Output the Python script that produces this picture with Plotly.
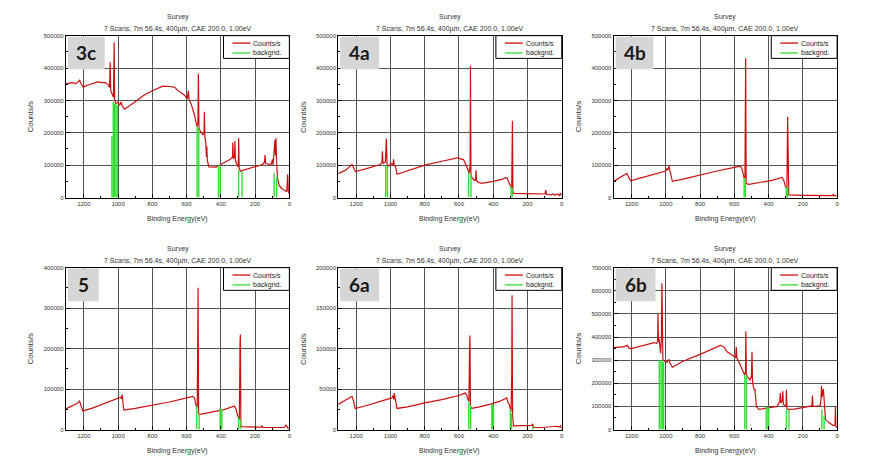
import plotly.graph_objects as go

# ---------------- data ----------------
panel_labels = ["3c", "4a", "4b", "5", "6a", "6b"]
y_max = [500000, 500000, 500000, 400000, 200000, 700000]
y_step = [100000, 100000, 100000, 100000, 50000, 100000]
x_tick_vals = [0, 200, 400, 600, 800, 1000, 1200]
x_range = [1305, 0]

title_text = "Survey"
subtitle_text = "7 Scans, 7m 56.4s, 400µm, CAE 200.0, 1.00eV"
x_title = "Binding Energy(eV)"
y_title = "Counts/s"
legend_names = ["Counts/s", "backgnd."]

# (binding energy eV, counts/s)
spectrum_3c = [
    (1305, 351000), (1270, 355000), (1245, 352000), (1225, 362000), (1215, 350000),
    (1203, 341000), (1180, 347000), (1150, 352000), (1118, 357000), (1090, 355000),
    (1075, 355000), (1058, 348000), (1050, 340000), (1046, 418000), (1043, 330000),
    (1035, 320000), (1027, 310000), (1023, 480000), (1020, 300000), (1013, 290000),
    (1000, 295000), (990, 285000), (982, 295000), (975, 282000), (962, 273000),
    (900, 296000), (850, 316000), (800, 330000), (739, 344000), (700, 343000),
    (671, 341000), (651, 331000), (612, 316000), (596, 305000), (590, 330000),
    (585, 300000), (574, 290000), (554, 255000), (540, 220000), (534, 230000),
    (531, 382000), (528, 215000), (520, 205000), (505, 194000), (498, 200000),
    (496, 265000), (493, 185000), (488, 170000), (484, 125000), (482, 158000),
    (479, 115000), (470, 95000), (450, 95000), (428, 94000), (400, 102000),
    (370, 110000), (345, 118000), (332, 125000), (330, 170000), (327, 120000),
    (320, 125000), (318, 175000), (315, 115000), (305, 100000), (298, 95000),
    (296, 184000), (293, 90000), (285, 82000), (250, 88000), (200, 95000),
    (156, 102000), (145, 110000), (142, 131000), (139, 105000), (120, 102000),
    (107, 102000), (98, 118000), (95, 100000), (88, 150000), (84, 178000),
    (81, 130000), (78, 184000), (75, 120000), (70, 65000), (60, 38000),
    (45, 28000), (25, 22000), (15, 18000), (10, 72000), (6, 20000), (1, 12000),
]
spectrum_4a = [
    (1305, 74000), (1260, 85000), (1235, 97000), (1225, 102000), (1215, 92000),
    (1205, 80000), (1150, 88000), (1100, 96000), (1060, 102000), (1050, 108000),
    (1047, 143000), (1044, 105000), (1030, 110000), (1024, 182000), (1020, 100000),
    (1013, 97000), (995, 105000), (985, 100000), (982, 118000), (978, 100000),
    (970, 95000), (962, 72000), (900, 83000), (800, 100000), (700, 112000),
    (640, 118000), (603, 123000), (585, 118000), (574, 118000), (560, 102000),
    (548, 82000), (540, 75000), (535, 100000), (533, 407000), (530, 70000),
    (525, 62000), (509, 52000), (503, 55000), (500, 84000), (497, 52000),
    (490, 48000), (467, 44000), (400, 50000), (350, 56000), (321, 62000),
    (311, 47000), (301, 37000), (292, 30000), (288, 237000), (285, 20000),
    (282, 13000), (200, 12000), (120, 12000), (97, 11000), (93, 23000),
    (89, 10000), (60, 8000), (50, 12000), (40, 7000), (25, 11000),
    (15, 6000), (8, 13000), (1, 6000),
]
spectrum_4b = [
    (1305, 50000), (1270, 60000), (1240, 70000), (1229, 74000), (1222, 68000),
    (1206, 52000), (1150, 60000), (1100, 68000), (1050, 75000), (1001, 82000),
    (992, 90000), (988, 85000), (982, 97000), (976, 85000), (962, 50000),
    (900, 57000), (800, 70000), (700, 82000), (600, 93000), (564, 97000),
    (554, 87000), (544, 62000), (538, 60000), (534, 430000), (531, 45000),
    (525, 42000), (515, 41000), (450, 47000), (380, 53000), (321, 62000),
    (311, 52000), (301, 32000), (293, 28000), (289, 249000), (286, 15000),
    (282, 8000), (200, 7000), (100, 6500), (50, 6000), (25, 6000),
    (22, 11000), (18, 6000), (1, 5000),
]
spectrum_5 = [
    (1305, 51000), (1270, 57000), (1240, 64000), (1225, 70000), (1218, 62000),
    (1206, 46000), (1150, 53000), (1100, 61000), (1050, 68000), (992, 78000),
    (985, 80000), (980, 76000), (976, 86000), (970, 60000), (966, 48000),
    (900, 52000), (800, 60000), (700, 68000), (600, 78000), (564, 82000),
    (554, 78000), (548, 65000), (544, 58000), (538, 55000), (535, 185000),
    (533, 350000), (530, 40000), (525, 37000), (515, 38000), (450, 44000),
    (380, 49000), (321, 58000), (311, 50000), (301, 33000), (292, 25000),
    (288, 215000), (286, 235000), (283, 12000), (278, 7000), (200, 6000),
    (165, 6000), (160, 9000), (155, 5000), (100, 5000), (30, 5000),
    (20, 11000), (10, 4000), (1, 3000),
]
spectrum_6a = [
    (1305, 31000), (1270, 35000), (1240, 39000), (1225, 41000), (1218, 37000),
    (1206, 26000), (1150, 29000), (1100, 32000), (1050, 35000), (992, 39000),
    (985, 42000), (980, 37000), (978, 45000), (972, 36000), (962, 26000),
    (900, 28000), (800, 33000), (700, 37000), (600, 42000), (564, 45000),
    (554, 42000), (547, 37000), (542, 35000), (538, 100000), (536, 116000),
    (533, 28000), (525, 26000), (480, 28000), (420, 31000), (360, 35000),
    (321, 39000), (315, 34000), (305, 30000), (296, 22000), (292, 65000),
    (290, 166000), (287, 18000), (282, 4500), (220, 4500), (175, 5000),
    (170, 7000), (165, 2500), (120, 2500), (60, 3000), (30, 4000),
    (15, 3000), (8, 4500), (1, 1500),
]
spectrum_6b = [
    (1305, 354000), (1280, 355000), (1250, 357000), (1225, 364000), (1215, 352000),
    (1202, 350000), (1150, 360000), (1100, 370000), (1068, 376000), (1055, 372000),
    (1048, 380000), (1046, 502000), (1043, 380000), (1040, 393000), (1030, 330000),
    (1026, 400000), (1023, 632000), (1020, 310000), (1017, 300000), (1005, 295000),
    (995, 290000), (982, 303000), (975, 285000), (962, 269000), (900, 295000),
    (800, 325000), (700, 358000), (681, 364000), (661, 357000), (642, 336000),
    (603, 317000), (592, 310000), (589, 357000), (585, 310000), (574, 293000),
    (554, 258000), (540, 236000), (535, 250000), (533, 425000), (530, 240000),
    (525, 229000), (509, 215000), (500, 230000), (497, 336000), (494, 210000),
    (488, 180000), (483, 172000), (480, 175000), (471, 98000), (457, 87000),
    (420, 92000), (380, 98000), (350, 100000), (340, 115000), (335, 120000),
    (331, 158000), (328, 115000), (320, 125000), (317, 165000), (314, 110000),
    (303, 100000), (298, 105000), (296, 172000), (293, 90000), (286, 87000),
    (250, 88000), (200, 94000), (156, 101000), (147, 105000), (144, 147000),
    (141, 100000), (107, 101000), (98, 105000), (94, 130000), (91, 189000),
    (88, 140000), (80, 175000), (76, 130000), (68, 44000), (49, 30000),
    (30, 22000), (19, 16000), (12, 20000), (10, 98000), (7, 15000), (1, 8000),
]

# background region markers (binding energy eV, counts/s)
backgnd_3c = [(1036, 190000), (1028, 295000), (1022, 290000), (1013, 290000), (1005, 285000),
              (539, 220000), (529, 215000), (414, 100000), (404, 100000),
              (296, 85000), (276, 82000), (89, 75000), (74, 62000)]
backgnd_4a = [(1028, 100000), (1018, 97000), (544, 78000), (530, 70000),
              (296, 35000), (289, 30000)]
backgnd_4b = [(543, 62000), (536, 60000), (296, 33000), (289, 30000)]
backgnd_5 = [(541, 58000), (527, 40000), (404, 52000), (400, 50000), (394, 48000),
             (297, 30000), (286, 25000)]
backgnd_6a = [(543, 35000), (532, 30000), (408, 31000), (404, 31000), (399, 29000),
              (300, 25000), (293, 20000), (169, 4000)]
backgnd_6b = [(1038, 300000), (1028, 300000), (1020, 300000), (1013, 290000),
              (539, 236000), (529, 230000), (414, 98000), (404, 97000), (399, 95000),
              (296, 87000), (281, 85000), (89, 87000), (76, 60000)]

spectra = [spectrum_3c, spectrum_4a, spectrum_4b, spectrum_5, spectrum_6a, spectrum_6b]
backgnds = [backgnd_3c, backgnd_4a, backgnd_4b, backgnd_5, backgnd_6a, backgnd_6b]

# ---------------- styling / layout ----------------
W, H = 876, 463
RED = "#cc0f0f"
GREEN = "#33dd33"
GRID = "#555555"
FONT = "Liberation Sans, Arial, sans-serif"
col_px = [(58, 282), (331, 555), (607, 831)]
row_px = [(25, 189), (260, 424)]
label_box_w = [37, 39, 38, 31, 39, 40]

fig = go.Figure()
layout = {}
shapes = []
annotations = []

for i, lab in enumerate(panel_labels):
    r, c = divmod(i, 3)
    sfx = "" if i == 0 else str(i + 1)
    xa, ya = "x" + sfx, "y" + sfx
    spec = spectra[i]
    fig.add_trace(go.Scatter(
        x=[p[0] for p in spec], y=[p[1] for p in spec], mode="lines",
        line=dict(color=RED, width=1.2), xaxis=xa, yaxis=ya,
        showlegend=False, hoverinfo="skip"))
    bx, by = [], []
    for e, v in backgnds[i]:
        bx += [e, e, None]
        by += [0, v, None]
    fig.add_trace(go.Scatter(
        x=bx, y=by, mode="lines", line=dict(color=GREEN, width=1.4),
        xaxis=xa, yaxis=ya, showlegend=False, hoverinfo="skip"))

    x0, x1 = col_px[c]
    y0, y1 = row_px[r]
    pw, ph = x1 - x0, y1 - y0
    layout["xaxis" + sfx] = dict(
        domain=[x0 / W, x1 / W], anchor=ya, range=x_range,
        tickvals=x_tick_vals, ticks="inside", ticklen=4, tickcolor="black",
        showgrid=True, gridcolor=GRID, gridwidth=1, zeroline=False,
        showline=True, linecolor="black", linewidth=1, mirror=True,
        tickfont=dict(size=6, color="#333333", family=FONT),
        minor=dict(dtick=100, ticks="inside", ticklen=2, tickcolor="black", showgrid=False),
    )
    layout["yaxis" + sfx] = dict(
        domain=[1 - y1 / H, 1 - y0 / H], anchor=xa, range=[0, y_max[i]],
        dtick=y_step[i], tick0=0, tickformat="d", ticks="inside", ticklen=4,
        tickcolor="black", showgrid=True, gridcolor=GRID, gridwidth=1,
        zeroline=False, showline=True, linecolor="black", linewidth=1, mirror=True,
        tickfont=dict(size=6, color="#333333", family=FONT),
        minor=dict(dtick=y_step[i] / 2, ticks="inside", ticklen=2, tickcolor="black", showgrid=False),
    )

    dx, dy = xa + " domain", ya + " domain"
    # panel label box
    bw = label_box_w[i]
    shapes.append(dict(type="rect", xref=dx, yref=dy, x0=2 / pw, x1=(2 + bw) / pw,
                       y0=1 - 34 / ph, y1=1 - 1 / ph, fillcolor="#d6d6d6",
                       line=dict(width=0), layer="above"))
    annotations.append(dict(xref=dx, yref=dy, x=(2 + bw / 2) / pw, y=1 - 17.5 / ph,
                            text="<b>%s</b>" % lab, showarrow=False,
                            font=dict(size=19, color="#1a1a1a", family="Lato, sans-serif"),
                            xanchor="center", yanchor="middle"))
    # legend box
    shapes.append(dict(type="rect", xref=dx, yref=dy, x0=1 - 66 / pw, x1=1,
                       y0=1 - 23 / ph, y1=1, fillcolor="white",
                       line=dict(color="black", width=1), layer="above"))
    for k, (nm, col) in enumerate(zip(legend_names, [RED, GREEN])):
        yy = 1 - (7.5 + 10 * k) / ph
        shapes.append(dict(type="line", xref=dx, yref=dy, x0=1 - 57 / pw, x1=1 - 39 / pw,
                           y0=yy, y1=yy, line=dict(color=col, width=1.3), layer="above"))
        annotations.append(dict(xref=dx, yref=dy, x=1 - 38 / pw, y=yy, text=nm,
                                showarrow=False, xanchor="left", yanchor="middle",
                                font=dict(size=7, color="#222222", family=FONT)))

    # titles
    xc = (x0 + x1) / 2 / W
    top = y0 - 25
    annotations.append(dict(xref="paper", yref="paper", x=xc, y=1 - (top + 6) / H,
                            text=title_text, showarrow=False, xanchor="center", yanchor="middle",
                            font=dict(size=7, color="#333333", family=FONT)))
    annotations.append(dict(xref="paper", yref="paper", x=xc, y=1 - (top + 18.5) / H,
                            text=subtitle_text, showarrow=False, xanchor="center", yanchor="middle",
                            font=dict(size=7, color="#333333", family=FONT)))
    annotations.append(dict(xref="paper", yref="paper", x=xc, y=1 - (y1 + 22) / H,
                            text=x_title, showarrow=False, xanchor="center", yanchor="middle",
                            font=dict(size=7, color="#333333", family=FONT)))
    annotations.append(dict(xref="paper", yref="paper", x=(x0 - 35) / W, y=1 - (y0 + y1) / 2 / H,
                            text=y_title, showarrow=False, textangle=-90,
                            xanchor="center", yanchor="middle",
                            font=dict(size=8, color="#333333", family=FONT)))

fig.update_layout(
    width=W, height=H, margin=dict(l=0, r=0, t=0, b=0),
    paper_bgcolor="white", plot_bgcolor="white",
    showlegend=False, shapes=shapes, annotations=annotations,
    font=dict(family=FONT),
    **layout,
)
fig.write_html("out.html")
